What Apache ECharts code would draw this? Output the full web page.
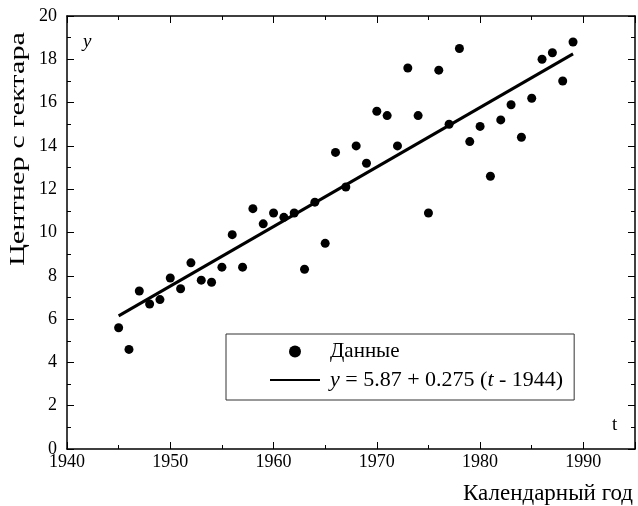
<!DOCTYPE html>
<html>
<head>
<meta charset="utf-8">
<script src="https://cdn.jsdelivr.net/npm/echarts@6/dist/echarts.min.js"></script>
<style>html,body{margin:0;padding:0;background:#fff}#c{width:638px;height:506px}</style>
</head>
<body>
<div id="c"></div>
<script>
const years = [1945,1946,1947,1948,1949,1950,1951,1952,1953,1954,1955,1956,1957,1958,1959,1960,1961,1962,1963,1964,1965,1966,1967,1968,1969,1970,1971,1972,1973,1974,1975,1976,1977,1978,1979,1980,1981,1982,1983,1984,1985,1986,1987,1988,1989];
const yields = [5.6,4.6,7.3,6.7,6.9,7.9,7.4,8.6,7.8,7.7,8.4,9.9,8.4,11.1,10.4,10.9,10.7,10.9,8.3,11.4,9.5,13.7,12.1,14.0,13.2,15.6,15.4,14.0,17.6,15.4,10.9,17.5,15.0,18.5,14.2,14.9,12.6,15.2,15.9,14.4,16.2,18.0,18.3,17.0,18.8];
const fitYears = [1945, 1989];
const fitValues = [6.15, 18.25];
const xTicks = [1940,1950,1960,1970,1980,1990];
const yTicks = [0,2,4,6,8,10,12,14,16,18,20];

const FONT = 'Liberation Serif';
const chart = echarts.init(document.getElementById('c'), null, {renderer:'canvas'});
const axisCommon = {
  axisLine:{show:true, onZero:false, lineStyle:{color:'#000', width:1.5}},
  axisTick:{show:true, inside:true, length:7, lineStyle:{color:'#000', width:1}},
  minorTick:{show:true, splitNumber:2, length:4, lineStyle:{color:'#000', width:1}},
  splitLine:{show:false}
};
chart.setOption({
  animation:false,
  backgroundColor:'#fff',
  grid:{left:67, right:3, top:16, bottom:57, containLabel:false},
  xAxis:[
    Object.assign({type:'value', min:1940, max:1995, interval:10, position:'bottom',
      axisLabel:{color:'#000', fontFamily:FONT, fontSize:18, margin:4, showMaxLabel:false,
        formatter: v => xTicks.indexOf(v) >= 0 ? String(v) : ''}}, axisCommon),
    Object.assign({type:'value', min:1940, max:1995, interval:10, position:'top',
      axisLabel:{show:false}}, axisCommon)
  ],
  yAxis:[
    Object.assign({type:'value', min:0, max:20, interval:2, position:'left',
      axisLabel:{color:'#000', fontFamily:FONT, fontSize:18, margin:10,
        formatter: v => yTicks.indexOf(v) >= 0 ? String(v) : ''}}, axisCommon),
    Object.assign({type:'value', min:0, max:20, interval:2, position:'right',
      axisLabel:{show:false}}, axisCommon)
  ],
  legend:{
    left:226, top:334, orient:'vertical',
    backgroundColor:'#fff', borderColor:'#333', borderWidth:1,
    padding:[7, 11, 9, 43], itemGap:7, itemWidth:50, itemHeight:12,
    textStyle:{color:'#000', fontFamily:FONT, fontSize:21, padding:[0,0,0,5],
      rich:{i:{fontStyle:'italic', fontFamily:FONT, fontSize:22, color:'#000'},
            e:{fontFamily:FONT, fontSize:22, color:'#000'},
            n:{fontFamily:FONT, fontSize:21, color:'#000'}}},
    formatter: function(name){
      if (name === 'fit') return '{i|y}{e| = 5.87 + 0.275 (}{i|t}{e| - 1944)}';
      return '{n|' + name + '}';
    },
    data:[{name:'Данные', icon:'circle'}, {name:'fit'}]
  },
  series:[
    {name:'Данные', type:'scatter', symbol:'circle', symbolSize:9,
     itemStyle:{color:'#000', opacity:1}, data: years.map((t,i)=>[t, yields[i]])},
    {name:'fit', type:'line', symbol:'none', showSymbol:false,
     itemStyle:{color:'#000', opacity:0},
     lineStyle:{color:'#000', width:3}, data: fitYears.map((t,i)=>[t, fitValues[i]])}
  ],
  graphic:[
    {type:'text', left:83, top:32, style:{text:'y', font:'italic 19px "Liberation Serif"', fill:'#000'}},
    {type:'text', left:612, top:416, style:{text:'t', font:'19px "Liberation Serif"', fill:'#000'}},
    {type:'text', left:463, top:482, style:{text:'Календарный год', font:'23px "Liberation Serif"', fill:'#000'}},
    {type:'text', x:18, y:149, rotation:Math.PI/2, scaleX:1.38,
     style:{text:'Центнер с гектара', font:'22px "Liberation Serif"', fill:'#000', align:'center', verticalAlign:'middle'}}
  ]
});
</script>
</body>
</html>
